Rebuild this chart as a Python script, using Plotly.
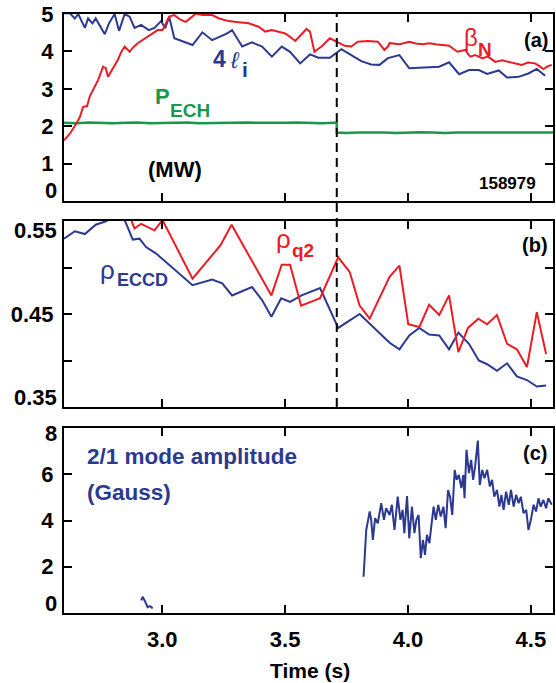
import plotly.graph_objects as go

# ---------------- data ----------------
# (a) normalized beta
beta_t = [2.600, 2.624, 2.651, 2.665, 2.678, 2.694, 2.705, 2.718, 2.739, 2.759, 2.770, 2.779,
          2.798, 2.819, 2.834, 2.847, 2.867, 2.883, 2.900, 2.919, 2.941, 2.960, 2.981, 3.001,
          3.015, 3.028, 3.049, 3.076, 3.096, 3.123, 3.136, 3.163, 3.203, 3.231, 3.258, 3.271,
          3.311, 3.352, 3.392, 3.419, 3.446, 3.500, 3.520, 3.541, 3.587, 3.601, 3.619, 3.648,
          3.682, 3.709, 3.743, 3.769, 3.796, 3.837, 3.877, 3.904, 3.918, 3.925, 3.965, 4.005,
          4.031, 4.059, 4.087, 4.113, 4.140, 4.167, 4.201, 4.234, 4.245, 4.254, 4.273, 4.302,
          4.326, 4.355, 4.383, 4.410, 4.435, 4.463, 4.488, 4.517, 4.532, 4.551, 4.568, 4.585]
beta_n = [1.62, 1.80, 2.08, 2.25, 2.52, 2.54, 2.80, 2.97, 3.24, 3.59, 3.55, 3.32,
          3.55, 3.77, 4.00, 4.13, 3.99, 4.12, 4.22, 4.30, 4.39, 4.47, 4.57, 4.57,
          4.75, 4.93, 4.97, 4.84, 4.79, 4.93, 5.01, 4.97, 4.97, 4.88, 4.84, 4.81,
          4.78, 4.75, 4.66, 4.53, 4.57, 4.48, 4.39, 4.28, 4.60, 4.53, 3.99, 4.13,
          4.35, 4.26, 4.15, 4.13, 4.26, 4.28, 4.26, 4.04, 4.13, 4.22, 4.19, 4.26,
          4.21, 4.19, 4.22, 4.19, 4.17, 4.15, 3.99, 4.04, 3.92, 3.86, 3.90, 3.82,
          3.86, 3.72, 3.76, 3.72, 3.68, 3.64, 3.70, 3.68, 3.62, 3.53, 3.60, 3.64]

# (a) 4 x internal inductance
li_t = [2.600, 2.624, 2.644, 2.658, 2.685, 2.698, 2.716, 2.729, 2.766, 2.783, 2.806, 2.824,
        2.847, 2.867, 2.887, 2.914, 2.945, 2.968, 2.995, 3.012, 3.028, 3.049, 3.123, 3.163,
        3.203, 3.264, 3.284, 3.325, 3.365, 3.406, 3.446, 3.486, 3.520, 3.561, 3.601, 3.635,
        3.682, 3.729, 3.769, 3.810, 3.850, 3.884, 3.918, 3.965, 4.005, 4.127, 4.167, 4.208,
        4.248, 4.288, 4.322, 4.369, 4.403, 4.450, 4.490, 4.524, 4.558]
li4 = [5.02, 5.02, 4.88, 5.00, 4.63, 4.88, 4.75, 4.88, 4.46, 4.75, 5.00, 4.55,
       5.00, 4.93, 4.63, 4.71, 4.57, 4.63, 4.81, 4.62, 4.93, 4.35, 4.17, 4.51,
       4.30, 4.48, 4.57, 4.13, 4.24, 4.13, 3.86, 4.13, 3.99, 3.68, 3.92, 3.83,
       3.83, 4.06, 3.90, 3.74, 3.65, 3.64, 3.82, 3.90, 3.55, 3.59, 3.71, 3.39,
       3.50, 3.50, 3.40, 3.49, 3.30, 3.32, 3.41, 3.53, 3.35]

# (a) ECH power (MW), stepped down at ECH_STEP_TIME
ECH_STEP_TIME = 3.71
pech_t = [2.60, 2.65, 2.70, 2.75, 2.80, 2.85, 2.90, 2.95, 3.00, 3.05, 3.10, 3.15, 3.20, 3.25,
          3.30, 3.35, 3.40, 3.45, 3.50, 3.55, 3.60, 3.65, 3.70, 3.71, 3.71, 3.75, 3.80, 3.85,
          3.90, 3.95, 4.00, 4.05, 4.10, 4.15, 4.20, 4.25, 4.30, 4.35, 4.40, 4.45, 4.50, 4.55, 4.59]
pech = [2.09, 2.08, 2.10, 2.09, 2.08, 2.09, 2.10, 2.08, 2.09, 2.09, 2.10, 2.08, 2.09, 2.08,
        2.09, 2.10, 2.09, 2.08, 2.09, 2.10, 2.09, 2.08, 2.09, 2.09, 1.83, 1.82, 1.83, 1.84,
        1.83, 1.82, 1.83, 1.84, 1.83, 1.82, 1.83, 1.83, 1.84, 1.82, 1.83, 1.83, 1.82, 1.83, 1.83]

# (b) ECCD deposition radius
eccd_t = [2.600, 2.644, 2.685, 2.729, 2.773, 2.794, 2.826, 2.847, 2.880, 2.907, 2.934, 2.975,
          3.123, 3.203, 3.244, 3.284, 3.365, 3.406, 3.444, 3.484, 3.520, 3.567, 3.642, 3.716,
          3.803, 3.925, 3.965, 4.005, 4.046, 4.086, 4.127, 4.167, 4.205, 4.248, 4.288, 4.322,
          4.362, 4.403, 4.443, 4.484, 4.524, 4.562]
rho_eccd = [0.531, 0.539, 0.536, 0.546, 0.550, 0.556, 0.558, 0.551, 0.530, 0.531, 0.522, 0.515,
            0.481, 0.487, 0.483, 0.470, 0.479, 0.465, 0.447, 0.467, 0.463, 0.470, 0.478, 0.435,
            0.450, 0.419, 0.412, 0.427, 0.435, 0.428, 0.427, 0.412, 0.430, 0.418, 0.400, 0.396,
            0.389, 0.397, 0.383, 0.379, 0.372, 0.373]

# (b) q=2 surface radius
q2_t = [2.872, 2.887, 2.914, 2.968, 3.001, 3.123, 3.237, 3.282, 3.444, 3.486, 3.520, 3.565,
        3.642, 3.716, 3.763, 3.803, 3.844, 3.925, 3.965, 4.001, 4.046, 4.086, 4.127, 4.167,
        4.205, 4.244, 4.286, 4.322, 4.362, 4.403, 4.443, 4.484, 4.524, 4.562]
rho_q2 = [0.552, 0.542, 0.547, 0.540, 0.551, 0.488, 0.524, 0.546, 0.470, 0.503, 0.503, 0.459,
          0.467, 0.511, 0.495, 0.459, 0.445, 0.490, 0.502, 0.439, 0.436, 0.460, 0.449, 0.470,
          0.409, 0.435, 0.445, 0.439, 0.449, 0.418, 0.412, 0.393, 0.452, 0.407]

# (c) 2/1 mode amplitude (G): short blip, then the locked/rotating mode
blip_t = [2.914, 2.920, 2.930, 2.940, 2.950, 2.961]
blip_b = [0.55, 0.70, 0.50, 0.25, 0.30, 0.20]
mode_t = [3.819, 3.830, 3.844, 3.850, 3.857, 3.866, 3.877, 3.891, 3.902, 3.911, 3.925, 3.934,
          3.945, 3.958, 3.969, 3.978, 3.985, 3.996, 4.005, 4.016, 4.026, 4.034, 4.043, 4.052,
          4.061, 4.069, 4.077, 4.087, 4.096, 4.104, 4.113, 4.123, 4.133, 4.144, 4.153, 4.163,
          4.171, 4.180, 4.190, 4.198, 4.207, 4.217, 4.225, 4.230, 4.238, 4.248, 4.257, 4.265,
          4.273, 4.284, 4.292, 4.302, 4.311, 4.322, 4.333, 4.342, 4.351, 4.362, 4.372, 4.380,
          4.389, 4.399, 4.410, 4.419, 4.430, 4.440, 4.450, 4.459, 4.470, 4.481, 4.490, 4.500,
          4.511, 4.521, 4.531, 4.540, 4.551, 4.562, 4.571, 4.585]
mode_b = [1.57, 3.59, 4.39, 4.03, 3.16, 4.10, 3.88, 4.75, 4.03, 4.53, 4.24, 4.68,
          3.59, 5.03, 4.03, 4.46, 3.45, 5.06, 3.23, 4.60, 3.45, 4.03, 4.24, 2.37,
          3.16, 2.51, 3.38, 3.02, 3.88, 4.60, 4.03, 4.68, 4.17, 4.60, 3.67, 5.32,
          5.03, 4.24, 6.19, 5.76, 5.97, 5.40, 5.97, 4.96, 7.06, 6.05, 6.62, 5.76,
          6.33, 7.46, 5.54, 6.19, 5.83, 6.19, 5.47, 5.76, 5.03, 5.32, 4.60, 5.11,
          4.46, 5.25, 4.68, 5.32, 4.60, 5.11, 4.75, 5.03, 4.32, 4.46, 3.59, 4.03,
          4.68, 4.39, 4.96, 4.60, 4.89, 4.53, 4.96, 4.68]

x_ticks = [3.0, 3.5, 4.0, 4.5]
x_tick_text = ["3.0", "3.5", "4.0", "4.5"]
ya_ticks = [0, 1, 2, 3, 4, 5]
ya_tick_text = ["", "1", "2", "3", "4", "5"]
yb_ticks = [0.35, 0.40, 0.45, 0.50, 0.55]
yb_tick_text = ["", "", "0.45", "", ""]
yc_ticks = [0, 2, 4, 6, 8]
yc_tick_text = ["", "2", "4", "6", ""]

# ---------------- styling ----------------
RED = "#ec1c24"
BLUE = "#2b3990"
GREEN = "#17984a"
FONT = "Liberation Sans, Arial, sans-serif"
TICK_SIZE = 22

fig = go.Figure()

fig.add_trace(go.Scatter(x=pech_t, y=pech, mode="lines", line=dict(color=GREEN, width=2.5),
                         xaxis="x", yaxis="y"))
fig.add_trace(go.Scatter(x=li_t, y=li4, mode="lines", line=dict(color=BLUE, width=2),
                         xaxis="x", yaxis="y"))
fig.add_trace(go.Scatter(x=beta_t, y=beta_n, mode="lines", line=dict(color=RED, width=2),
                         xaxis="x", yaxis="y"))

fig.add_trace(go.Scatter(x=eccd_t, y=rho_eccd, mode="lines", line=dict(color=BLUE, width=2),
                         xaxis="x2", yaxis="y2"))
fig.add_trace(go.Scatter(x=q2_t, y=rho_q2, mode="lines", line=dict(color=RED, width=2),
                         xaxis="x2", yaxis="y2"))

fig.add_trace(go.Scatter(x=blip_t, y=blip_b, mode="lines", line=dict(color=BLUE, width=2),
                         xaxis="x3", yaxis="y3"))
fig.add_trace(go.Scatter(x=mode_t, y=mode_b, mode="lines", line=dict(color=BLUE, width=2),
                         xaxis="x3", yaxis="y3"))

tick_font = dict(family=FONT, size=TICK_SIZE, color="black", weight="bold")
frame = dict(showline=True, linecolor="black", linewidth=2, mirror="allticks",
             ticks="inside", ticklen=8, tickwidth=2, tickcolor="black",
             showgrid=False, zeroline=False, tickfont=tick_font)

XR = [2.6, 4.59]
dom_a = [0.6878, 1.0]
dom_b = [0.3439, 0.6544]
dom_c = [0.0, 0.3088]

fig.update_layout(
    width=556, height=683,
    margin=dict(l=64, r=1, t=14, b=70),
    paper_bgcolor="white", plot_bgcolor="white",
    showlegend=False,
    xaxis=dict(frame, range=XR, tickvals=x_ticks, showticklabels=False, anchor="y"),
    xaxis2=dict(frame, range=XR, tickvals=x_ticks, showticklabels=False, anchor="y2", matches="x"),
    xaxis3=dict(frame, range=XR, tickvals=x_ticks, ticktext=x_tick_text, anchor="y3",
                matches="x", ticklabelstandoff=6),
    yaxis=dict(frame, domain=dom_a, range=[0, 5], tickvals=ya_ticks, ticktext=ya_tick_text,
               anchor="x", ticklabelstandoff=4),
    yaxis2=dict(frame, domain=dom_b, range=[0.35, 0.55], tickvals=yb_ticks,
                ticktext=yb_tick_text, anchor="x2", ticklabelstandoff=4),
    yaxis3=dict(frame, domain=dom_c, range=[0, 8], tickvals=yc_ticks, ticktext=yc_tick_text,
                anchor="x3", ticklabelstandoff=4),
)

# ECH power step marker through panels (a) and (b)
fig.add_shape(type="line", xref="x", yref="paper", x0=ECH_STEP_TIME, x1=ECH_STEP_TIME,
              y0=dom_b[0], y1=dom_a[1], line=dict(color="black", width=2, dash="9px,6px"))


# end-of-axis tick labels, kept inside their own panel so neighbours don't collide
def end_label(val, yref, yanchor, yshift):
    fig.add_annotation(text=str(val) if not isinstance(val, float) else f"{val:.2f}",
                       x=0, y=val, xref="paper", yref=yref, showarrow=False,
                       xanchor="right", yanchor=yanchor, xshift=-5, yshift=yshift,
                       font=tick_font)


end_label(ya_ticks[0], "y", "bottom", -4)
end_label(yb_ticks[-1], "y2", "top", 5)
end_label(yb_ticks[0], "y2", "bottom", -5)
end_label(yc_ticks[-1], "y3", "middle", -5)
end_label(yc_ticks[0], "y3", "bottom", -5)


def note(text, x, y, ax, color, size, bold=True, xanchor="center", italic=False):
    fig.add_annotation(text=text, x=x, y=y, xref=ax[0], yref=ax[1], showarrow=False,
                       xanchor=xanchor, yanchor="middle",
                       font=dict(family=FONT, size=size, color=color,
                                 weight="bold" if bold else "normal",
                                 style="italic" if italic else "normal"))


A = ("x", "y")
B = ("x2", "y2")
C = ("x3", "y3")

# panel (a) labels
note("4", 3.231, 3.80, A, BLUE, 23)
note("ℓ", 3.295, 3.78, A, BLUE, 23, bold=False, italic=True)
note("i", 3.336, 3.52, A, BLUE, 21)
note("β", 4.256, 4.38, A, RED, 24, bold=False)
note("N", 4.312, 4.05, A, RED, 19)
note("(a)", 4.520, 4.30, A, "black", 20)
note("P", 3.000, 2.80, A, GREEN, 22)
note("ECH", 3.113, 2.42, A, GREEN, 19)
note("(MW)", 3.053, 0.83, A, "black", 22)
note("158979", 4.403, 0.46, A, "black", 17)

# panel (b) labels
note("ρ", 2.778, 0.497, B, BLUE, 26, bold=False)
note("ECCD", 2.918, 0.487, B, BLUE, 18)
note("ρ", 3.492, 0.531, B, RED, 26, bold=False)
note("q2", 3.572, 0.518, B, RED, 19)
note("(b)", 4.516, 0.524, B, "black", 20)

# panel (c) labels
note("2/1 mode amplitude", 2.685, 6.75, C, BLUE, 22.5, xanchor="left")
note("(Gauss)", 2.685, 5.19, C, BLUE, 22.5, xanchor="left")
note("(c)", 4.516, 6.92, C, "black", 20)

# x-axis title
fig.add_annotation(text="Time (s)", x=0.503, y=-0.096, xref="paper", yref="paper",
                   showarrow=False, xanchor="center", yanchor="middle",
                   font=dict(family=FONT, size=21, color="black", weight="bold"))

fig.write_html("out.html")
